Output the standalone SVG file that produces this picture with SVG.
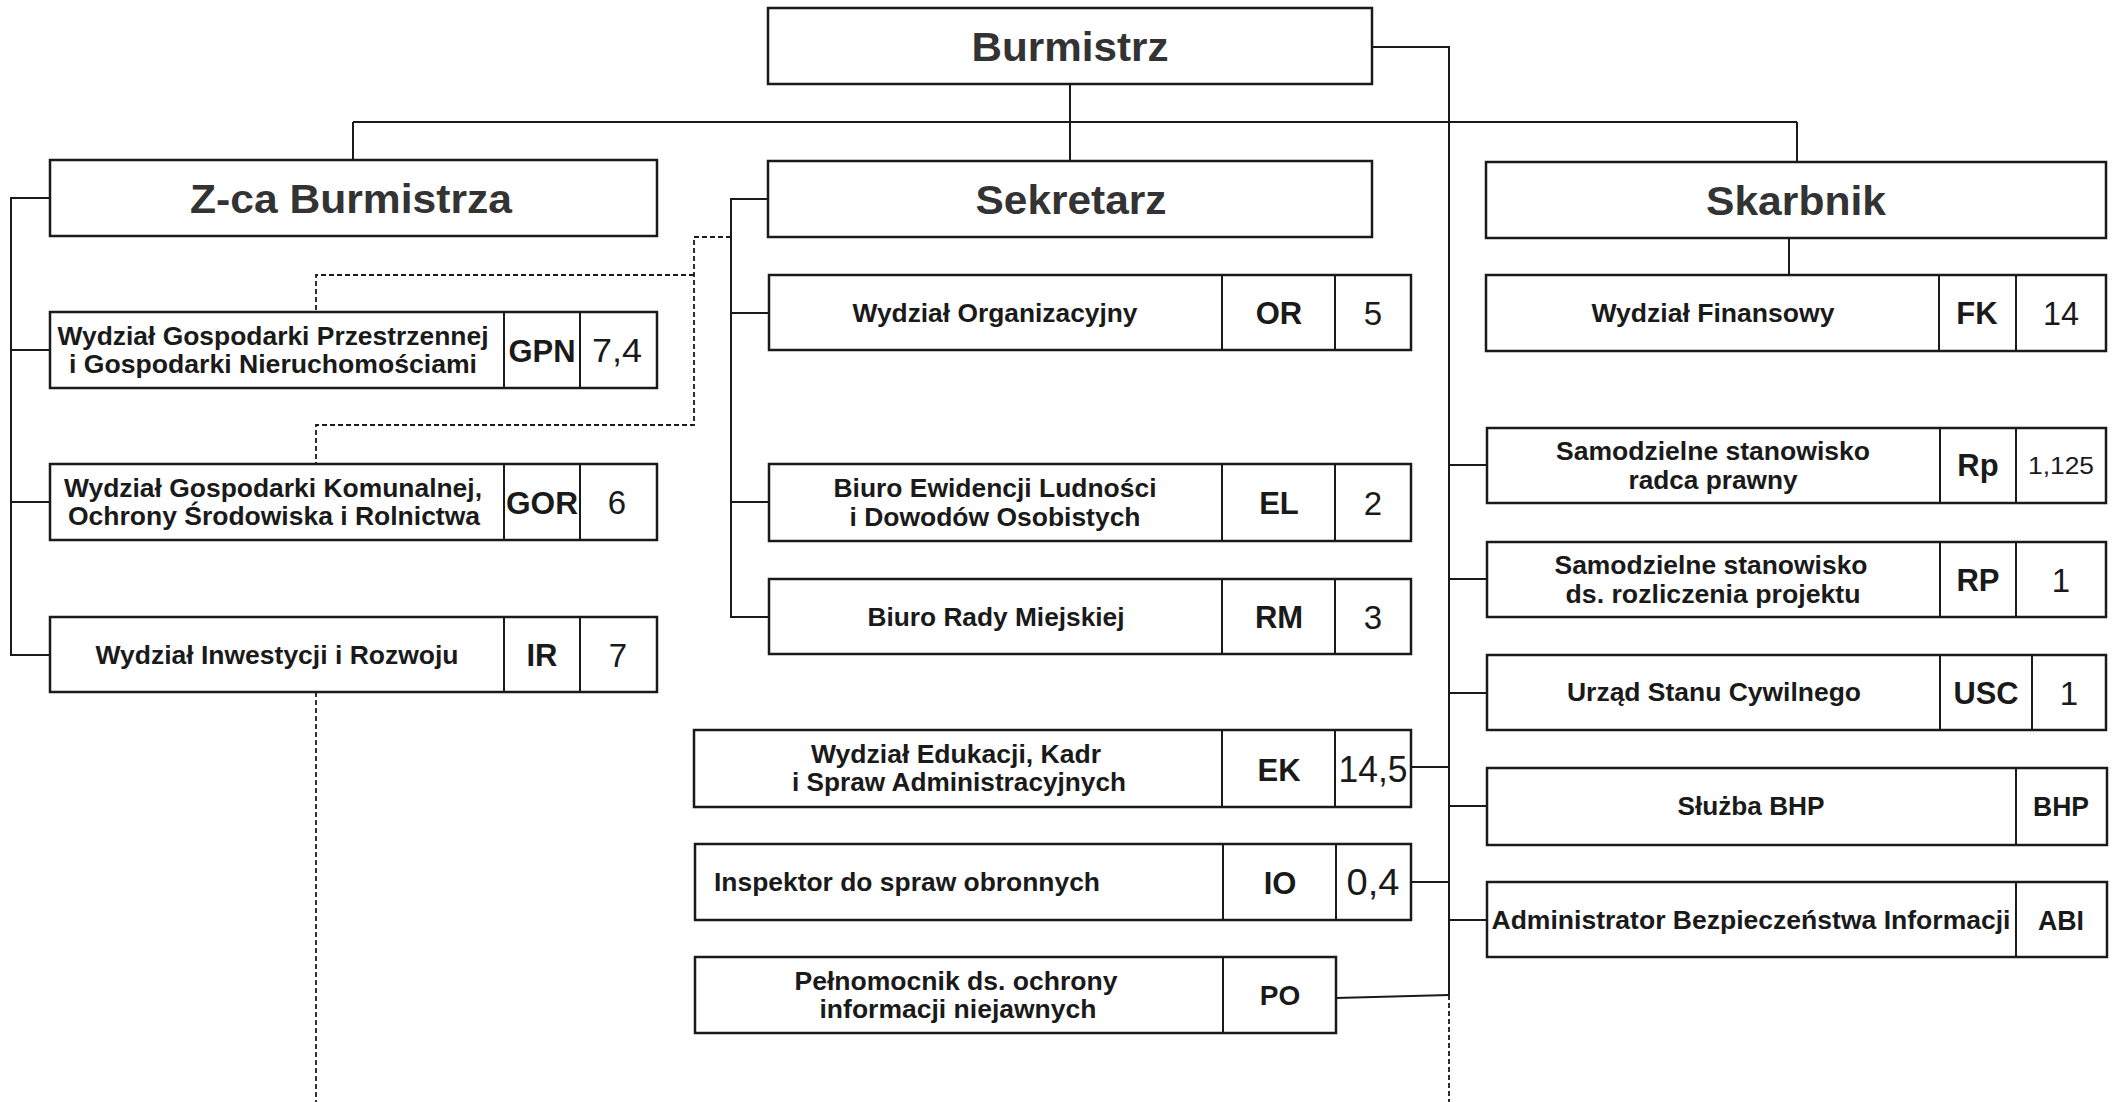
<svg xmlns="http://www.w3.org/2000/svg" width="2115" height="1102" viewBox="0 0 2115 1102">
<style>
.box{fill:#fff;stroke:#1a1a1a;stroke-width:2.5}
.div{stroke:#1a1a1a;stroke-width:2;fill:none}
.ln{stroke:#1a1a1a;stroke-width:2;fill:none}
.dash{stroke:#1a1a1a;stroke-width:1.8;fill:none;stroke-dasharray:5 3}
text{font-family:"Liberation Sans Narrow","Liberation Sans",Arial,sans-serif;fill:#1a1a1a;text-anchor:middle}
.title{font-size:41px;font-weight:bold;fill:#333}
.t{font-size:25px;font-weight:bold}
.code{font-size:31px;font-weight:bold}
.num{font-size:33px;font-weight:normal}
.start{text-anchor:start}
</style>
<rect width="2115" height="1102" fill="#fff"/>
<g id="connectors">
<path class="ln" d="M1070,84 V161"/>
<path class="ln" d="M353,122 H1797"/>
<path class="ln" d="M353,122 V160"/>
<path class="ln" d="M1797,122 V162"/>
<path class="ln" d="M1372,47 H1449 V995"/>
<path class="dash" d="M1449,995 V1102"/>
<path class="ln" d="M1789,238 V275"/>
<path class="ln" d="M50,198 H11 V655 H50 M11,350 H50 M11,502 H50"/>
<path class="ln" d="M768,199 H731 V617 H769 M731,313 H769 M731,502 H769"/>
<path class="dash" d="M731,237 H694 V425 H316 V464 M694,275 H316 V312"/>
<path class="dash" d="M316,692 V1102"/>
<path class="ln" d="M1449,465 H1487 M1449,579 H1487 M1449,693 H1487 M1449,806 H1487 M1449,920 H1487"/>
<path class="ln" d="M1411,767 H1449 M1411,882 H1449 M1336,998 L1449,995"/>
</g>
<g id="burmistrz">
<rect class="box" x="768" y="8" width="604" height="76"/>
<text class="title" x="1070" y="61" textLength="197" lengthAdjust="spacingAndGlyphs">Burmistrz</text>
</g>
<g id="zca">
<rect class="box" x="50" y="160" width="607" height="76"/>
<text class="title" x="351" y="213" textLength="322" lengthAdjust="spacingAndGlyphs">Z-ca Burmistrza</text>
</g>
<g id="sekretarz">
<rect class="box" x="768" y="161" width="604" height="76"/>
<text class="title" x="1071" y="214" textLength="191" lengthAdjust="spacingAndGlyphs">Sekretarz</text>
</g>
<g id="skarbnik">
<rect class="box" x="1486" y="162" width="620" height="76"/>
<text class="title" x="1796" y="215" textLength="180" lengthAdjust="spacingAndGlyphs">Skarbnik</text>
</g>
<g id="gpn">
<rect class="box" x="50" y="312" width="607" height="76"/>
<path class="div" d="M504,312 V388 M580,312 V388"/>
<text class="t" x="273" y="345" textLength="431" lengthAdjust="spacingAndGlyphs">Wydział Gospodarki Przestrzennej</text>
<text class="t" x="273" y="373" textLength="408" lengthAdjust="spacingAndGlyphs">i Gospodarki Nieruchomościami</text>
<text class="code" x="542" y="362" textLength="67" lengthAdjust="spacingAndGlyphs">GPN</text>
<text class="num" x="617" y="362" textLength="50" lengthAdjust="spacingAndGlyphs">7,4</text>
</g>
<g id="gor">
<rect class="box" x="50" y="464" width="607" height="76"/>
<path class="div" d="M504,464 V540 M580,464 V540"/>
<text class="t" x="273" y="497" textLength="418" lengthAdjust="spacingAndGlyphs">Wydział Gospodarki Komunalnej,</text>
<text class="t" x="274" y="525" textLength="412" lengthAdjust="spacingAndGlyphs">Ochrony Środowiska i Rolnictwa</text>
<text class="code" x="542" y="514" textLength="72" lengthAdjust="spacingAndGlyphs">GOR</text>
<text class="num" x="617" y="514">6</text>
</g>
<g id="ir">
<rect class="box" x="50" y="617" width="607" height="75"/>
<path class="div" d="M504,617 V692 M580,617 V692"/>
<text class="t" x="277" y="664" textLength="363" lengthAdjust="spacingAndGlyphs">Wydział Inwestycji i Rozwoju</text>
<text class="code" x="542" y="666">IR</text>
<text class="num" x="618" y="667">7</text>
</g>
<g id="or">
<rect class="box" x="769" y="275" width="642" height="75"/>
<path class="div" d="M1222,275 V350 M1335,275 V350"/>
<text class="t" x="995" y="322" textLength="285" lengthAdjust="spacingAndGlyphs">Wydział Organizacyjny</text>
<text class="code" x="1279" y="324">OR</text>
<text class="num" x="1373" y="325">5</text>
</g>
<g id="el">
<rect class="box" x="769" y="464" width="642" height="77"/>
<path class="div" d="M1222,464 V541 M1335,464 V541"/>
<text class="t" x="995" y="497" textLength="323" lengthAdjust="spacingAndGlyphs">Biuro Ewidencji Ludności</text>
<text class="t" x="995" y="526" textLength="291" lengthAdjust="spacingAndGlyphs">i Dowodów Osobistych</text>
<text class="code" x="1279" y="514">EL</text>
<text class="num" x="1373" y="515">2</text>
</g>
<g id="rm">
<rect class="box" x="769" y="579" width="642" height="75"/>
<path class="div" d="M1222,579 V654 M1335,579 V654"/>
<text class="t" x="996" y="626" textLength="257" lengthAdjust="spacingAndGlyphs">Biuro Rady Miejskiej</text>
<text class="code" x="1279" y="628">RM</text>
<text class="num" x="1373" y="629">3</text>
</g>
<g id="ek">
<rect class="box" x="694" y="730" width="717" height="77"/>
<path class="div" d="M1222,730 V807 M1335,730 V807"/>
<text class="t" x="956" y="763" textLength="290" lengthAdjust="spacingAndGlyphs">Wydział Edukacji, Kadr</text>
<text class="t" x="959" y="791" textLength="334" lengthAdjust="spacingAndGlyphs">i Spraw Administracyjnych</text>
<text class="code" x="1279" y="781">EK</text>
<text class="num" x="1373" y="782" style="font-size:36px" textLength="69" lengthAdjust="spacingAndGlyphs">14,5</text>
</g>
<g id="io">
<rect class="box" x="695" y="844" width="716" height="76"/>
<path class="div" d="M1223,844 V920 M1336,844 V920"/>
<text class="t start" x="714" y="891" textLength="386" lengthAdjust="spacingAndGlyphs">Inspektor do spraw obronnych</text>
<text class="code" x="1280" y="894">IO</text>
<text class="num" x="1373" y="895" style="font-size:36px" textLength="53" lengthAdjust="spacingAndGlyphs">0,4</text>
</g>
<g id="po">
<rect class="box" x="695" y="957" width="641" height="76"/>
<path class="div" d="M1223,957 V1033"/>
<text class="t" x="956" y="990" textLength="323" lengthAdjust="spacingAndGlyphs">Pełnomocnik ds. ochrony</text>
<text class="t" x="958" y="1018" textLength="277" lengthAdjust="spacingAndGlyphs">informacji niejawnych</text>
<text class="code" x="1280" y="1005" style="font-size:28px">PO</text>
</g>
<g id="fk">
<rect class="box" x="1486" y="275" width="620" height="76"/>
<path class="div" d="M1939,275 V351 M2016,275 V351"/>
<text class="t" x="1713" y="322" textLength="243" lengthAdjust="spacingAndGlyphs">Wydział Finansowy</text>
<text class="code" x="1977" y="324">FK</text>
<text class="num" x="2061" y="325" textLength="36" lengthAdjust="spacingAndGlyphs">14</text>
</g>
<g id="rp1">
<rect class="box" x="1487" y="428" width="619" height="75"/>
<path class="div" d="M1940,428 V503 M2016,428 V503"/>
<text class="t" x="1713" y="460" textLength="314" lengthAdjust="spacingAndGlyphs">Samodzielne stanowisko</text>
<text class="t" x="1713" y="489" textLength="169" lengthAdjust="spacingAndGlyphs">radca prawny</text>
<text class="code" x="1978" y="476">Rp</text>
<text class="num" x="2061" y="474" style="font-size:24px" textLength="66" lengthAdjust="spacingAndGlyphs">1,125</text>
</g>
<g id="rp2">
<rect class="box" x="1487" y="542" width="619" height="75"/>
<path class="div" d="M1940,542 V617 M2016,542 V617"/>
<text class="t" x="1711" y="574" textLength="313" lengthAdjust="spacingAndGlyphs">Samodzielne stanowisko</text>
<text class="t" x="1713" y="603" textLength="295" lengthAdjust="spacingAndGlyphs">ds. rozliczenia projektu</text>
<text class="code" x="1978" y="591">RP</text>
<text class="num" x="2061" y="592">1</text>
</g>
<g id="usc">
<rect class="box" x="1487" y="655" width="619" height="75"/>
<path class="div" d="M1940,655 V730 M2032,655 V730"/>
<text class="t" x="1714" y="701" textLength="294" lengthAdjust="spacingAndGlyphs">Urząd Stanu Cywilnego</text>
<text class="code" x="1986" y="704" textLength="65" lengthAdjust="spacingAndGlyphs">USC</text>
<text class="num" x="2069" y="705">1</text>
</g>
<g id="bhp">
<rect class="box" x="1487" y="768" width="620" height="77"/>
<path class="div" d="M2016,768 V845"/>
<text class="t" x="1751" y="815" textLength="147" lengthAdjust="spacingAndGlyphs">Służba BHP</text>
<text class="code" x="2061" y="816" style="font-size:28px" textLength="56" lengthAdjust="spacingAndGlyphs">BHP</text>
</g>
<g id="abi">
<rect class="box" x="1487" y="882" width="620" height="75"/>
<path class="div" d="M2016,882 V957"/>
<text class="t" x="1751" y="929" textLength="519" lengthAdjust="spacingAndGlyphs">Administrator Bezpieczeństwa Informacji</text>
<text class="code" x="2061" y="930" style="font-size:28px" textLength="46" lengthAdjust="spacingAndGlyphs">ABI</text>
</g>
</svg>
